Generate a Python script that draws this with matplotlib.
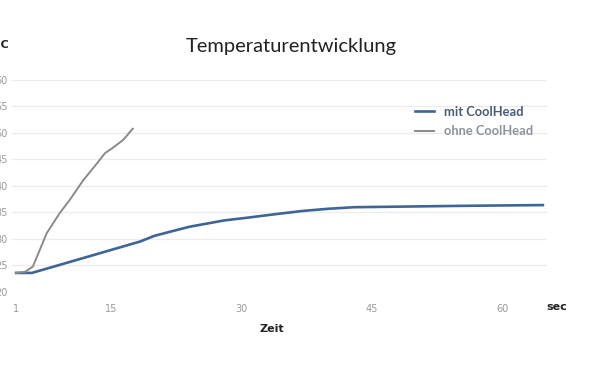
import matplotlib.pyplot as plt

# time axis in seconds (first sample shown as "1")
t_mit = [4.07, 5.9, 18.3, 20.0, 22.1, 24.0, 26.0, 28.0, 30.6, 34.0, 37.1,
         40.0, 43.0, 48.0, 55.0, 64.7]
temp_mit = [23.6, 23.6, 29.5, 30.6, 31.5, 32.3, 32.9, 33.5, 34.0, 34.7, 35.3,
            35.7, 36.0, 36.1, 36.25, 36.4]

t_ohne = [4.07, 5.1, 6.0, 7.6, 9.1, 10.3, 11.8, 13.4, 14.3, 15.2, 16.4, 17.5]
temp_ohne = [23.6, 23.8, 24.8, 31.1, 34.9, 37.5, 41.1, 44.3, 46.2, 47.2, 48.7, 50.8]

x_ticks = [4.07, 15, 30, 45, 60]
x_labels = ["1", "15", "30", "45", "60"]
y_ticks = [20, 25, 30, 35, 40, 45, 50, 55, 60]

blue = "#3e6595"
gray = "#8a8a8a"
tick_col = "#9a9a9a"

fig = plt.figure(figsize=(6, 3.69), dpi=100)
ax = fig.add_axes([0.02, 0.2087, 0.892, 0.5745])

ax.plot(t_mit, temp_mit, color=blue, lw=1.9, label="mit CoolHead", zorder=3)
ax.plot(t_ohne, temp_ohne, color=gray, lw=1.4, label="ohne CoolHead", zorder=3)

ax.set_xlim(3.6, 65.2)
ax.set_ylim(20, 60)
ax.set_xticks(x_ticks)
ax.set_xticklabels(x_labels)
ax.set_yticks(y_ticks)
ax.tick_params(length=0, labelsize=7, colors=tick_col)
ax.tick_params(axis="x", pad=9)
ax.tick_params(axis="y", pad=3)
ax.grid(axis="y", color="#ececec", lw=0.9)
for s in ax.spines.values():
    s.set_visible(False)

fig.text(0.485, 0.875, "Temperaturentwicklung", ha="center", va="center",
         fontsize=14.5, family="Lato", color="#222222")
fig.text(-0.008, 0.877, "°C", ha="left", va="center", fontsize=8,
         fontweight="bold", color="#222222")
fig.text(0.928, 0.168, "sec", ha="center", va="center", fontsize=8,
         fontweight="bold", color="#222222")
fig.text(0.453, 0.108, "Zeit", ha="center", va="center", fontsize=8,
         fontweight="bold", color="#222222")

leg = ax.legend(loc="upper left", bbox_to_anchor=(0.673, 0.745),
                bbox_transform=fig.transFigure, frameon=False,
                handlelength=1.45, handletextpad=0.8, labelspacing=0.6,
                prop={"family": "Lato", "weight": "bold", "size": 9.3})
leg.get_texts()[0].set_color("#4a5b78")
leg.get_texts()[1].set_color("#8e939c")

fig.savefig("out.png", dpi=100)
